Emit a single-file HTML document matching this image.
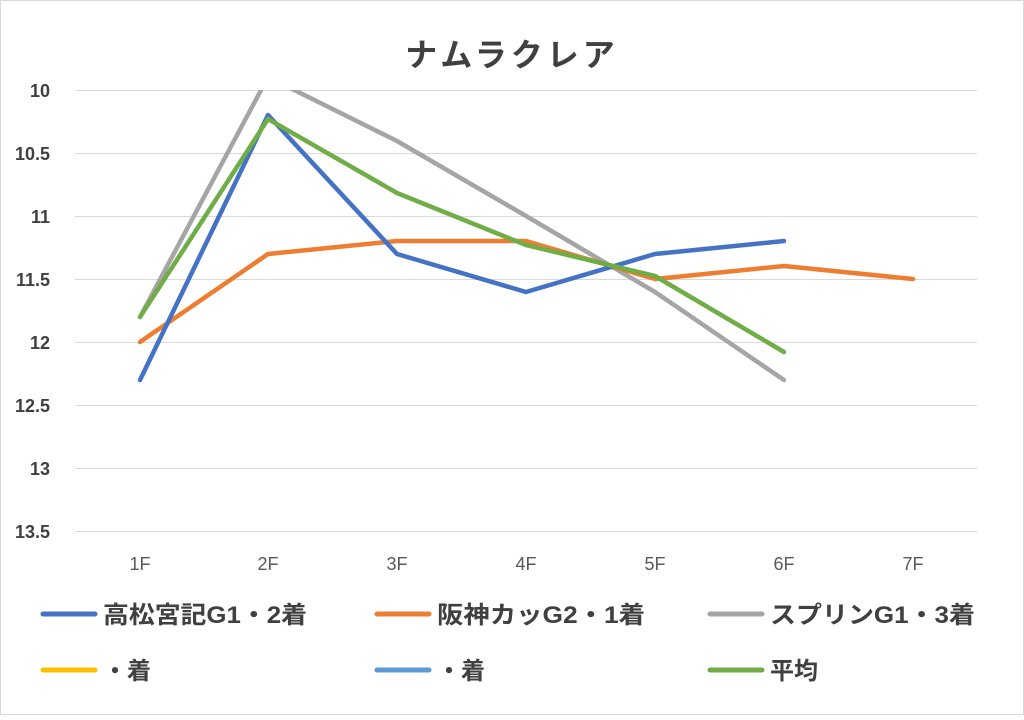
<!DOCTYPE html>
<html><head><meta charset="utf-8"><style>
html,body{margin:0;padding:0;background:#fff;}
svg text{font-family:"Liberation Sans","Noto Sans CJK JP",sans-serif;}
</style></head><body>
<svg width="1024" height="715" viewBox="0 0 1024 715" xmlns="http://www.w3.org/2000/svg">
<rect x="0.5" y="0.5" width="1023" height="714" fill="#fff" stroke="#d9d9d9"/>
<text x="512" y="66" text-anchor="middle" font-size="32" font-weight="bold" fill="#404040" letter-spacing="4">ナムラクレア</text>
<g stroke="#d9d9d9" stroke-width="1">
<line x1="75" y1="90.5" x2="977" y2="90.5"/>
<line x1="75" y1="153.5" x2="977" y2="153.5"/>
<line x1="75" y1="216.5" x2="977" y2="216.5"/>
<line x1="75" y1="279.5" x2="977" y2="279.5"/>
<line x1="75" y1="342.5" x2="977" y2="342.5"/>
<line x1="75" y1="405.5" x2="977" y2="405.5"/>
<line x1="75" y1="468.5" x2="977" y2="468.5"/>
<line x1="75" y1="531.5" x2="977" y2="531.5"/>
</g>
<g font-size="18" font-weight="bold" fill="#404040" text-anchor="end">
<text x="50" y="97">10</text><text x="50" y="160">10.5</text><text x="50" y="223">11</text><text x="50" y="286">11.5</text><text x="50" y="349">12</text><text x="50" y="412">12.5</text><text x="50" y="475">13</text><text x="50" y="538">13.5</text>
</g>
<g font-size="18" fill="#595959" text-anchor="middle">
<text x="140" y="570">1F</text><text x="268" y="570">2F</text><text x="397" y="570">3F</text><text x="526" y="570">4F</text><text x="655" y="570">5F</text><text x="784" y="570">6F</text><text x="913" y="570">7F</text>
</g>
<defs><clipPath id="c"><rect x="75" y="90" width="902" height="442"/></clipPath></defs>
<g clip-path="url(#c)" fill="none" stroke-width="4.5" stroke-linejoin="round" stroke-linecap="round">
<polyline stroke="#a5a5a5" points="140,317 268,77 397,141 526,216 655,292 784,380"/>
<polyline stroke="#ed7d31" points="140,342 268,254 397,241 526,241 655,279 784,266 913,279"/>
<polyline stroke="#4472c4" points="140,380 268,115 397,254 526,292 655,254 784,241"/>
<polyline stroke="#70ad47" points="140,317 268,119 397,193 526,245 655,276 784,352"/>
</g>
<g stroke-width="5" stroke-linecap="round">
<line x1="43" y1="614" x2="95" y2="614" stroke="#4472c4"/>
<line x1="377" y1="614" x2="429" y2="614" stroke="#ed7d31"/>
<line x1="710" y1="614" x2="762" y2="614" stroke="#a5a5a5"/>
<line x1="43" y1="670" x2="95" y2="670" stroke="#ffc000"/>
<line x1="377" y1="670" x2="429" y2="670" stroke="#5b9bd5"/>
<line x1="710" y1="670" x2="762" y2="670" stroke="#70ad47"/>
</g>
<g font-size="24" font-weight="bold" fill="#404040">
<text x="103" y="623" textLength="204" lengthAdjust="spacingAndGlyphs">高松宮記G1・2着</text>
<text x="437" y="623" textLength="208" lengthAdjust="spacingAndGlyphs">阪神カッG2・1着</text>
<text x="770" y="623" textLength="205" lengthAdjust="spacingAndGlyphs">スプリンG1・3着</text>
<text x="103" y="679">・着</text>
<text x="437" y="679">・着</text>
<text x="770" y="679">平均</text>
</g>
</svg>
</body></html>
